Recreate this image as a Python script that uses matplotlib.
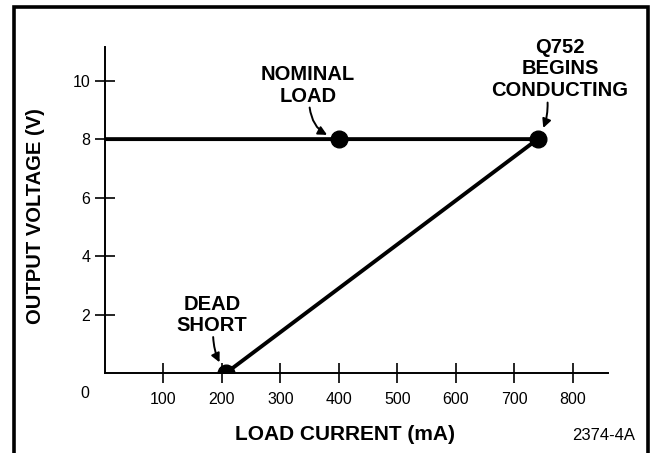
"""
Output voltage vs load current curve
"""

import matplotlib.pyplot as plt
from matplotlib.patches import Rectangle

plt.rcParams['font.family'] = ['Liberation Sans', 'DejaVu Sans']

# curve: flat at 8 V until Q752 conducts, then folds back to dead short
curve_x = [0, 400, 740, 207]
curve_y = [8, 8, 8, 0]

# marked points
point_x = [400, 740, 207]
point_y = [8, 8, 0]

x_ticks = [100, 200, 300, 400, 500, 600, 700, 800]
y_ticks = [2, 4, 6, 8, 10]

fig = plt.figure(figsize=(6.53, 4.53), dpi=100)
ax = fig.add_axes([0.1608, 0.1766, 0.770, 0.7196])

ax.plot(curve_x, curve_y, color='black', linewidth=2.8, solid_capstyle='butt')
ax.plot(point_x, point_y, 'o', color='black', markersize=12)

ax.set_xlim(0, 860)
ax.set_ylim(0, 11.15)

for side in ['top', 'right']:
    ax.spines[side].set_visible(False)
for side in ['left', 'bottom']:
    ax.spines[side].set_linewidth(1.4)

ax.set_xticks(x_ticks)
ax.set_yticks(y_ticks)
ax.tick_params(direction='inout', length=15, width=1.2, labelsize=11.5, pad=3)
ax.tick_params(axis='x', pad=6)
ax.text(-34, -0.7, '0', fontsize=11.5, ha='center', va='center', clip_on=False)

ax.set_xlabel('LOAD CURRENT (mA)', fontsize=15, fontweight='bold')
ax.xaxis.set_label_coords(0.477, -0.16)
ax.set_ylabel('OUTPUT VOLTAGE (V)', fontsize=14.5, fontweight='bold')
ax.yaxis.set_label_coords(-0.12, 0.48)

arrow = dict(arrowstyle='-|>', color='black', linewidth=1.4, mutation_scale=13,
             shrinkA=0, shrinkB=9)
label_style = dict(fontsize=14.5, fontweight='bold', ha='center', va='center',
                   linespacing=1.15, annotation_clip=False)

ax.annotate('NOMINAL\nLOAD', xy=(400, 8), xytext=(347, 9.83), **label_style)
ax.annotate('', xy=(400, 8), xytext=(350, 9.08),
            arrowprops=dict(arrow, connectionstyle='arc3,rad=0.35'))

ax.annotate('Q752\nBEGINS\nCONDUCTING', xy=(740, 8), xytext=(778, 10.4), **label_style)
ax.annotate('', xy=(740, 8), xytext=(757, 9.25),
            arrowprops=dict(arrow, connectionstyle='arc3,rad=-0.15'))

ax.annotate('DEAD\nSHORT', xy=(207, 0), xytext=(183, 1.99), **label_style)
ax.annotate('', xy=(207, 0), xytext=(185, 1.23),
            arrowprops=dict(arrow, connectionstyle='arc3,rad=0.15'))

fig.text(0.925, 0.022, '2374-4A', fontsize=12, ha='center', va='bottom')

# frame round the figure, open at the bottom
fig.patches.append(Rectangle((0.021, -0.1), 0.972, 1.085, transform=fig.transFigure,
                             fill=False, edgecolor='black', linewidth=2.6))

fig.savefig('out.png', dpi=100)
